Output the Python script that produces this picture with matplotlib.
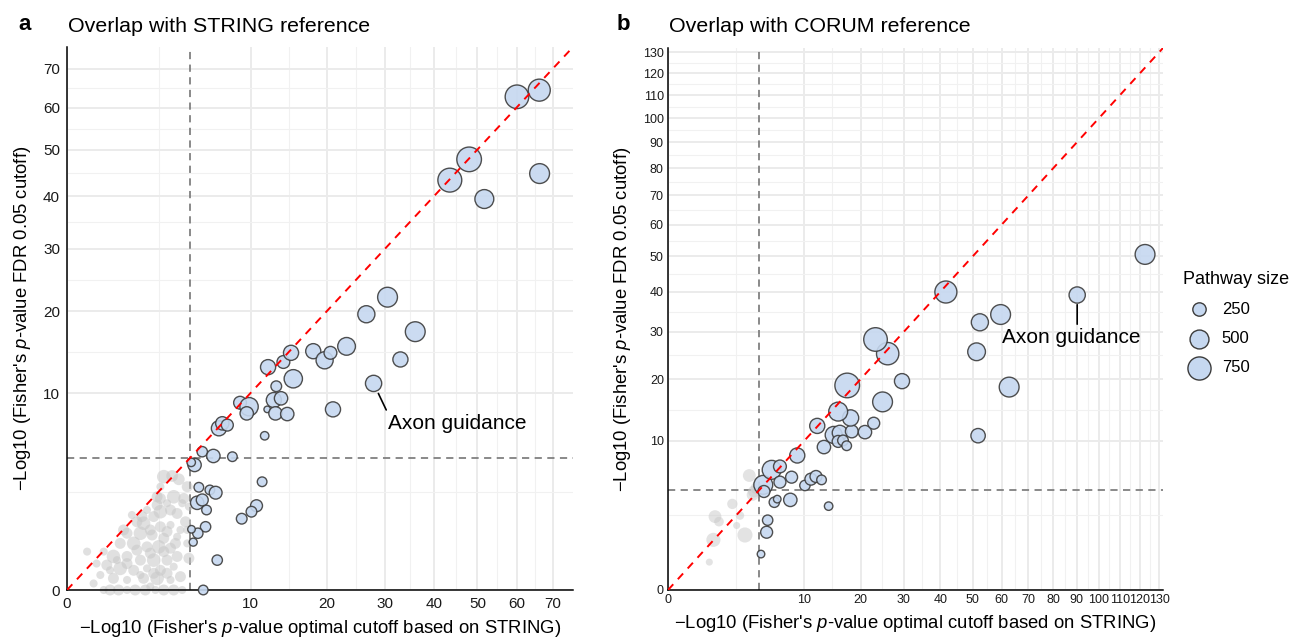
import numpy as np
import matplotlib
matplotlib.use("Agg")
import matplotlib.pyplot as plt

plt.rcParams['font.family'] = ['Liberation Sans', 'DejaVu Sans']
plt.rcParams['mathtext.fontset'] = 'custom'
plt.rcParams['mathtext.rm'] = 'Liberation Sans'
plt.rcParams['mathtext.it'] = 'Liberation Sans:italic'

# ---- panel a: STRING reference ----
a_x = [4.83, 4.58, 5.43, 6.36, 8.12, 6.85, 7.16, 7.63, 8.89, 9.84,
       9.59, 11.6, 12.0, 13.9, 14.9, 15.2, 13.0, 12.7, 13.6, 11.9,
       12.9, 14.4, 11.3, 5.16, 6.06, 6.56, 5.03, 5.43, 5.78, 10.66,
       10.1, 9.06, 5.7, 5.08, 4.6, 4.73, 6.7, 5.51,
       60.1, 66.2, 48.0, 43.5, 66.3, 51.7, 30.5, 26.6, 36.0, 18.0,
       19.7, 20.6, 23.2, 33.0, 27.9, 21.0]
a_y = [4.03, 4.2, 4.93, 4.63, 4.58, 6.74, 7.16, 7.01, 9.04, 8.66,
       8.04, 6.13, 12.8, 13.4, 14.5, 11.5, 10.7, 9.3, 9.47, 8.41,
       8.04, 7.98, 3.02, 2.72, 2.58, 2.44, 1.96, 2.09, 1.65, 1.83,
       1.58, 1.31, 1.03, 0.83, 0.95, 0.59, 0.23, 0.0,
       62.7, 64.4, 47.8, 43.3, 44.7, 39.4, 22.1, 19.6, 17.2, 14.7,
       13.6, 14.5, 15.3, 13.7, 11.0, 8.41]
a_size = [250, 100, 150, 250, 130, 320, 250, 200, 230, 470,
          250, 100, 320, 230, 320, 470, 160, 320, 250, 60,
          250, 250, 130, 130, 130, 230, 250, 200, 130, 200,
          160, 160, 150, 150, 80, 90, 150, 130,
          780, 680, 850, 800, 550, 500, 550, 410, 550, 320,
          410, 230, 440, 320, 370, 320]

# not significant pathways (grey)
ga_x = [2.78, 3.28, 3.71, 2.59, 4.29, 2.41, 3.38, 4.05, 4.41, 2.97,
        1.90, 2.59, 3.60, 4.17, 2.23, 1.45, 1.25, 1.74, 2.59, 3.18,
        4.29, 1.07, 1.60, 2.15, 2.78, 3.60, 0.84, 1.32, 1.90, 2.50,
        3.18, 4.29, 0.40, 0.12, 0.64, 1.07, 1.60, 2.23, 2.97, 3.60,
        4.41, 0.26, 0.47, 0.84, 1.32, 1.90, 2.59, 3.38, 0.33, 0.64,
        1.07, 1.74, 2.41, 3.18, 3.82, 0.21, 2.06,
        0.40, 0.55, 0.79, 1.07, 1.38, 1.82, 2.32, 2.78, 3.38, 3.94,
        0.95, 2.06, 2.97, 1.45, 2.06, 2.78, 1.07, 1.60, 2.23, 2.97,
        0.55, 0.74, 3.49, 3.82, 3.94, 2.41, 1.67, 3.18, 2.59]
ga_y = [3.31, 3.35, 3.16, 2.75, 2.75, 2.24, 2.24, 2.16, 1.79, 1.94,
        1.65, 1.58, 1.51, 1.20, 1.39, 1.20, 1.45, 1.15, 1.03, 1.09,
        0.93, 0.83, 0.83, 0.78, 0.69, 0.73, 0.56, 0.56, 0.48, 0.48,
        0.45, 0.56, 0.38, 0.38, 0.29, 0.29, 0.23, 0.23, 0.23, 0.29,
        0.26, 0.18, 0.16, 0.12, 0.10, 0.12, 0.10, 0.14, 0.058, 0.035,
        0.026, 0.035, 0.035, 0.026, 0.046, 0.011, 0.003,
        0, 0, 0, 0, 0, 0, 0, 0, 0, 0,
        0.93, 0.93, 0.88, 0.41, 0.35, 0.38, 0.18, 0.058, 0.072, 0.072,
        0.10, 0.23, 0.56, 0.93, 1.94, 1.86, 1.39, 1.65, 2.16]
ga_size = [200, 150, 150, 70, 130, 130, 200, 130, 70, 70,
           70, 200, 130, 130, 130, 130, 70, 200, 130, 70,
           70, 130, 200, 130, 130, 70, 130, 200, 130, 200,
           130, 70, 70, 70, 200, 130, 130, 200, 130, 130,
           130, 70, 130, 200, 130, 70, 130, 70, 70, 130,
           70, 130, 200, 70, 130, 70, 70,
           70, 130, 130, 70, 130, 130, 70, 130, 130, 70,
           130, 130, 130, 130, 130, 130, 130, 70, 130, 130,
           70, 70, 130, 70, 70, 130, 130, 130, 130]

# ---- panel b: CORUM reference ----
b_x = [4.66, 5.24, 5.35, 4.89, 4.96, 5.79, 6.75, 6.75, 8.23, 6.09,
       6.43, 8.06, 9.0, 10.1, 11.0, 11.8, 12.7, 13.9, 13.1, 12.0,
       14.8, 15.9, 15.6, 16.5, 17.2, 18.2, 17.96, 15.6, 20.9, 22.8,
       17.3, 24.8, 29.5, 26.0, 23.2, 52.4, 59.6, 51.3, 62.7, 51.8,
       90.2, 122.6, 41.6]
b_y = [0.58, 1.50, 2.19, 4.97, 4.36, 6.49, 6.86, 5.23, 5.72, 3.46,
       3.71, 3.65, 8.13, 4.91, 5.52, 5.79, 5.45, 3.16, 9.18, 12.1,
       10.8, 11.1, 9.92, 10.05, 9.35, 11.3, 13.3, 14.3, 11.2, 12.5,
       18.8, 15.9, 19.6, 25.1, 28.2, 32.2, 34.1, 25.5, 18.5, 10.7,
       39.1, 50.6, 39.9]
b_size = [80, 200, 150, 500, 200, 500, 230, 200, 200, 150,
          80, 250, 320, 150, 200, 200, 130, 100, 250, 320,
          410, 320, 200, 160, 130, 230, 370, 500, 250, 200,
          850, 550, 320, 700, 780, 410, 550, 440, 550, 290,
          370, 550, 680]

gb_x = [3.56, 4.23, 3.86, 2.23, 1.19, 1.40, 2.79, 2.54, 3.19, 1.11, 0.92, 3.98]
gb_y = [5.89, 4.66, 4.07, 3.33, 2.42, 2.10, 2.49, 1.87, 1.36, 1.13, 0.35, 4.36]
gb_size = [230, 200, 200, 150, 230, 130, 100, 70, 320, 280, 70, 200]

a_ticks = [0, 10, 20, 30, 40, 50, 60, 70]
b_ticks = [0, 10, 20, 30, 40, 50, 60, 70, 80, 90, 100, 110, 120, 130]
legend_sizes = [250, 500, 750]
cutoff = 4.5

BLUE = '#C6D8F0'
EDGE = '#3C3C3C'
SCALE = 0.37


def fwd(v):
    return np.sqrt(np.clip(v, 0, None))


def inv(v):
    return np.square(v)


def minor_of(ticks):
    # midpoints in sqrt space, like ggplot
    r = np.sqrt(ticks)
    return list(((r[:-1] + r[1:]) / 2) ** 2)


def setup(ax, ticks, lim, fs, pad):
    ax.set_xscale('function', functions=(fwd, inv))
    ax.set_yscale('function', functions=(fwd, inv))
    ax.set_xlim(0, lim)
    ax.set_ylim(0, lim)
    ax.set_xticks(ticks)
    ax.set_yticks(ticks)
    ax.set_xticks(minor_of(ticks), minor=True)
    ax.set_yticks(minor_of(ticks), minor=True)
    ax.set_xticklabels([str(t) for t in ticks])
    ax.set_yticklabels([str(t) for t in ticks])
    ax.tick_params(which='both', length=0, labelsize=fs, colors='#1a1a1a', pad=pad)
    ax.grid(True, which='major', color='#EBEBEB', lw=1.4, zorder=0)
    ax.grid(True, which='minor', color='#F1F1F1', lw=0.8, zorder=0)
    ax.set_axisbelow(True)
    for s in ['top', 'right']:
        ax.spines[s].set_visible(False)
    for s in ['left', 'bottom']:
        ax.spines[s].set_linewidth(1.1)
        ax.spines[s].set_color('black')
    ax.axvline(cutoff, color='#808080', lw=1.3, ls=(0, (4, 3)), zorder=1)
    ax.axhline(cutoff, color='#808080', lw=1.3, ls=(0, (4, 3)), zorder=1)
    ax.plot([0, lim], [0, lim], color='red', lw=1.4, ls=(0, (4, 3.5)), zorder=5)
    ax.set_xlabel("\u2212Log10 (Fisher's $p$-value optimal cutoff based on STRING)",
                  fontsize=13.3, labelpad=5)
    ax.set_ylabel("\u2212Log10 (Fisher's $p$-value FDR 0.05 cutoff)", fontsize=13.3, labelpad=7)


fig = plt.figure(figsize=(12.93, 6.41), dpi=100)
ax1 = fig.add_axes([67 / 1293, 51 / 641, 506 / 1293, 543 / 641])
ax2 = fig.add_axes([668 / 1293, 51 / 641, 495 / 1293, 542 / 641])

setup(ax1, a_ticks, 76, 11, 5)
setup(ax2, b_ticks, 132, 9, 3)

ax1.scatter(ga_x, ga_y, s=np.array(ga_size) * SCALE * 1.3, color='#C8C8C8', alpha=0.55,
            linewidths=0, zorder=2, clip_on=False)
ax1.scatter(a_x, a_y, s=np.array(a_size) * SCALE, facecolor=BLUE, edgecolor=EDGE,
            linewidths=1.0, alpha=0.9, zorder=3, clip_on=False)
ax2.scatter(gb_x, gb_y, s=np.array(gb_size) * SCALE, color='#C8C8C8', alpha=0.5,
            linewidths=0, zorder=2, clip_on=False)
ax2.scatter(b_x, b_y, s=np.array(b_size) * SCALE, facecolor=BLUE, edgecolor=EDGE,
            linewidths=1.0, alpha=0.9, zorder=3, clip_on=False)

ax1.annotate('Axon guidance', xy=(27.9, 11.0), xytext=(10.5, -22), textcoords='offset points',
             ha='left', va='top', fontsize=15,
             arrowprops=dict(arrowstyle='-', color='black', lw=1.2, shrinkA=1, shrinkB=8,
                             relpos=(0, 1)))
ax2.annotate('Axon guidance', xy=(90.2, 39.1), xytext=(-4, -24), textcoords='offset points',
             ha='center', va='top', fontsize=15,
             arrowprops=dict(arrowstyle='-', color='black', lw=1.2, shrinkA=1, shrinkB=7,
                             relpos=(0.54, 1)))

fig.text(18 / 1293, 1 - 25 / 641, 'a', fontsize=16, fontweight='bold', va='center')
fig.text(617 / 1293, 1 - 25 / 641, 'b', fontsize=16, fontweight='bold', va='center')
fig.text(68 / 1293, 1 - 26 / 641, 'Overlap with STRING reference', fontsize=15.4, va='center')
fig.text(669 / 1293, 1 - 26 / 641, 'Overlap with CORUM reference', fontsize=15.4, va='center')

handles = [ax2.scatter([], [], s=sz * SCALE, facecolor=BLUE, edgecolor=EDGE, linewidths=1.0)
           for sz in legend_sizes]
leg = fig.legend(handles, [str(s) for s in legend_sizes], title='Pathway size',
                 loc='upper left', bbox_to_anchor=(1176 / 1293, 1 - 264 / 641),
                 frameon=False, fontsize=12, title_fontsize=13,
                 labelspacing=0.85, handletextpad=0.35, borderaxespad=0)
leg._legend_box.align = 'left'

fig.savefig('out.png', dpi=100)
